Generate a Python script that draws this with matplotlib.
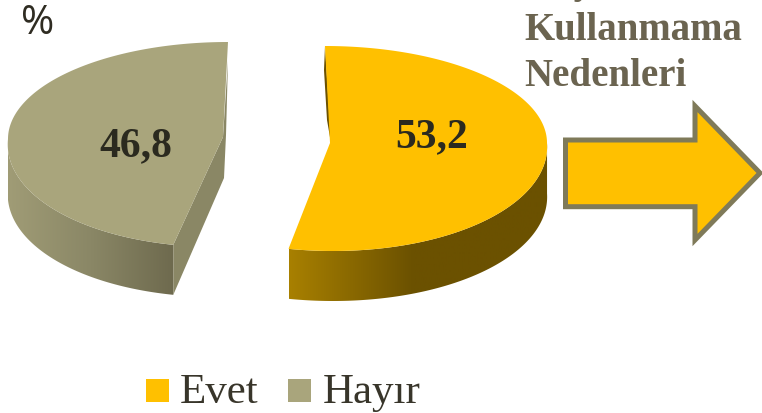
import numpy as np
import matplotlib
matplotlib.use('Agg')
import matplotlib.pyplot as plt
from matplotlib.patches import Polygon, Rectangle
from matplotlib.colors import LinearSegmentedColormap

labels = ['Evet', 'Hayır']
values = [53.2, 46.8]
value_text = ['53,2', '46,8']
colors = ['#FFC000', '#A9A57C']

W, H = 762, 413
fig = plt.figure(figsize=(W / 100, H / 100), dpi=100)
ax = fig.add_axes([0, 0, 1, 1])
ax.set_xlim(0, W)
ax.set_ylim(H, 0)
ax.axis('off')

DEPTH = 50


def project(theta, cx, cy, rx, shear):
    # theta clockwise from the top, bottom half of the ellipse is a bit taller (perspective)
    c = np.cos(theta)
    ry = np.where(c > 0, 97, 108)
    lean = np.where(c > 0, 0, -shear * c)
    return cx + rx * np.sin(theta) + lean, cy - ry * c


def side(xs, ys, cmap):
    # gradient wall under an arc
    poly = np.column_stack([np.r_[xs, xs[::-1]], np.r_[ys, ys[::-1] + DEPTH]])
    patch = Polygon(poly, closed=True, fc='none', ec='none')
    ax.add_patch(patch)
    im = ax.imshow(np.linspace(0, 1, 256)[None, :], cmap=cmap, aspect='auto',
                   extent=[xs.min(), xs.max(), H, 0], zorder=1)
    im.set_clip_path(patch)


fracs = np.array(values) / sum(values) * 2 * np.pi

# Evet
t = np.linspace(0, fracs[0], 300)
x, y = project(t, 325, 143, 222, 8)
cm_y = LinearSegmentedColormap.from_list('y', [(0, '#A88000'), (0.48, '#6B5100'), (1, '#6B5100')])
front = t > np.pi / 2
side(x[front], y[front], cm_y)
# thin dark edge at the inner cut
ax.add_patch(Polygon([(325, 46), (331, 143), (327, 120), (324, 70)], fc='#6B5100', ec='none', zorder=1))
ax.add_patch(Polygon(np.column_stack([np.r_[330, x], np.r_[143, y]]), fc=colors[0], ec='none', zorder=2))

# Hayir
t = np.linspace(fracs[0], 2 * np.pi, 300)
x, y = project(t, 228, 139, 220, -11)
cm_g = LinearSegmentedColormap.from_list('g', ['#A09C76', '#8A8766', '#6E6A4E'])
front = t < 3 * np.pi / 2
side(x[front], y[front], cm_g)
ax.add_patch(Polygon([(228, 60), (226, 135), (224, 178), (x[0], y[0] + DEPTH), (x[0], y[0]), (223, 137)],
                     fc='#8A8765', ec='none', zorder=1))
ax.add_patch(Polygon(np.column_stack([np.r_[223, x], np.r_[137, y]]), fc=colors[1], ec='none', zorder=2))

ax.set_xlim(0, W)
ax.set_ylim(H, 0)

serif = ['Liberation Serif', 'DejaVu Serif']
ax.text(432, 137, value_text[0], fontsize=30, fontweight='bold', family=serif, color='#2B2A1F', ha='center', va='center', zorder=3)
ax.text(136, 146, value_text[1], fontsize=30, fontweight='bold', family=serif, color='#2B2A1F', ha='center', va='center', zorder=3)

# arrow
ax.add_patch(Polygon([(565.5, 140), (695, 140), (695, 106), (760, 173), (695, 240), (695, 206.7), (565.5, 206.7)],
                     closed=True, fc=colors[0], ec='#7F7A59', lw=3.6, joinstyle='miter', zorder=2))

ax.text(38, 24, '%', fontsize=29, family=['Open Sans', 'DejaVu Sans'], color='#2F2C22', ha='center', va='center')
title_c = '#6B6450'
ax.text(524, -16, 'Kayıt', fontsize=28, fontweight='bold', family=serif, color=title_c, ha='left', va='center')
ax.text(524, 31, 'Kullanmama', fontsize=28, fontweight='bold', family=serif, color=title_c, ha='left', va='center')
ax.text(524, 77, 'Nedenleri', fontsize=28, fontweight='bold', family=serif, color=title_c, ha='left', va='center')

# legend
ax.add_patch(Rectangle((146, 379), 23, 23, fc=colors[0], ec='none'))
ax.text(180, 393, labels[0], fontsize=31, family=serif, color='#38352A', ha='left', va='center')
ax.add_patch(Rectangle((288, 379), 23, 23, fc=colors[1], ec='none'))
ax.text(323, 393, labels[1], fontsize=31, family=serif, color='#38352A', ha='left', va='center')

fig.savefig('out.png', dpi=100)
